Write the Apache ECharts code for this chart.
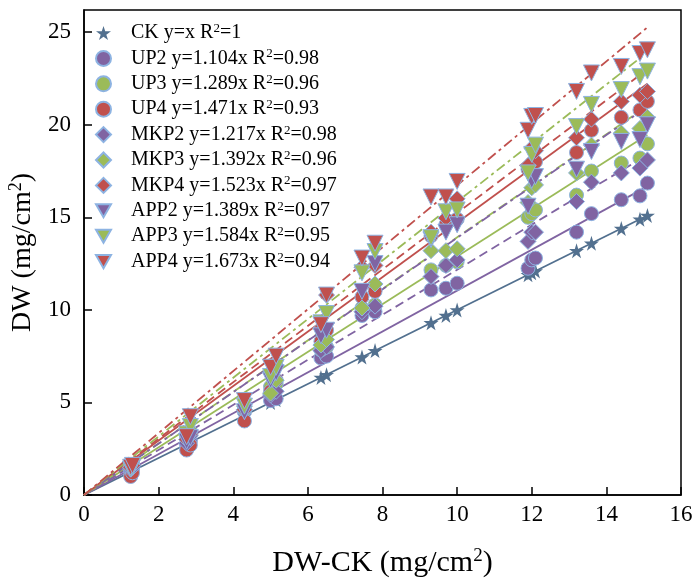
<!DOCTYPE html>
<html><head><meta charset="utf-8">
<script src="https://cdn.jsdelivr.net/npm/echarts@6/dist/echarts.min.js"></script>
<style>html,body{margin:0;padding:0;background:#fff}#c{width:695px;height:578px}</style>
</head><body><div id="c"></div>
<script>
// x values (DW-CK)
const X = [1.25,1.3,2.75,2.85,4.3,5.0,5.15,6.35,6.5,7.45,7.8,9.3,9.7,10.0,11.9,12.0,12.1,13.2,13.6,14.4,14.9,15.1];
const CK   = X.slice();
const UP2  = [1.3,1.4,2.7,2.9,4.5,5.1,5.2,7.4,7.5,9.7,9.9,11.08,11.17,11.44,12.25,12.7,12.8,14.2,15.2,15.95,16.16,16.85];
const UP3  = [1.5,1.6,3.1,3.4,4.6,5.85,6.0,7.84,8.0,10.1,10.27,12.16,12.4,12.6,15.0,15.2,15.4,16.2,17.5,17.93,18.2,18.97];
const UP4  = [1.0,1.2,2.43,2.7,4.0,5.6,6.2,8.3,8.9,10.7,11.0,14.0,14.6,14.9,17.6,17.9,18.0,18.5,19.7,20.4,20.8,21.26];
const MKP2 = [1.4,1.5,2.8,3.2,4.6,5.4,5.6,7.8,8.0,9.9,10.2,11.8,12.4,12.7,13.7,14.2,14.2,15.85,16.9,17.4,17.66,18.1];
const MKP3 = [1.5,1.6,3.3,3.5,4.8,5.5,6.2,8.1,8.4,10.1,11.4,13.2,13.2,13.3,15.8,16.6,16.75,17.4,18.9,19.55,19.8,20.4];
const MKP4 = [1.5,1.6,3.0,3.3,4.6,6.6,7.0,9.0,10.8,12.3,12.4,14.2,14.96,16.0,17.8,18.75,18.6,19.3,20.3,21.26,21.6,21.8];
const APP2 = [1.4,1.5,2.9,3.1,4.5,6.2,6.6,8.6,8.9,11.0,12.5,13.8,14.2,14.6,15.6,17.0,17.2,17.6,18.56,19.1,19.2,20.0];
const APP3 = [1.4,1.5,3.3,3.7,4.8,6.4,6.9,9.3,9.8,12.0,13.15,13.9,15.3,15.4,17.4,18.4,18.9,19.9,21.1,21.9,22.6,22.9];
const APP4 = [1.5,1.6,3.15,4.23,5.1,6.9,7.5,9.2,10.8,12.8,13.6,16.1,16.1,16.94,19.7,20.45,20.5,21.8,22.8,23.15,23.85,24.05];
const names = ['CK y=x R2=1','UP2 y=1.104x R2=0.98','UP3 y=1.289x R2=0.96','UP4 y=1.471x R2=0.93','MKP2 y=1.217x R2=0.98','MKP3 y=1.392x R2=0.96','MKP4 y=1.523x R2=0.97','APP2 y=1.389x R2=0.97','APP3 y=1.584x R2=0.95','APP4 y=1.673x R2=0.94'];
const slopes = [1, 1.104, 1.289, 1.471, 1.217, 1.392, 1.523, 1.389, 1.584, 1.673];
const ys = [CK, UP2, UP3, UP4, MKP2, MKP3, MKP4, APP2, APP3, APP4];

const STEEL = '#52708f', PURPLE = '#8064a2', GREEN = '#9bbb59', RED = '#c0504d';
const colors = [STEEL, PURPLE, GREEN, RED, PURPLE, GREEN, RED, PURPLE, GREEN, RED];
const STAR = 'path://M50,0 L61,35 L98,35 L68,57 L79,91 L50,70 L21,91 L32,57 L2,35 L39,35 Z';
const DOWN = 'path://M0,0 L100,0 L50,87 Z';
const symbols = [STAR,'circle','circle','circle','diamond','diamond','diamond',DOWN,DOWN,DOWN];
const sizes = [15,14,14,14,16,16,16,16,16,16];
const lineTypes = ['solid','solid','solid','solid',[9,5],[9,5],[9,5],[10,4,3,4],[10,4,3,4],[10,4,3,4]];
const font = 'Liberation Serif';

const series = [];
ys.forEach((arr, i) => {
  const xe = X[X.length-1];
  series.push({
    type: 'line', name: 'fit' + i, silent: true, symbol: 'none',
    data: [[0,0],[xe, slopes[i]*xe]],
    lineStyle: {color: colors[i], width: 1.8, type: lineTypes[i]},
    z: 1
  });
});
ys.forEach((arr, i) => {
  series.push({
    type: 'scatter', name: names[i],
    data: X.map((x, k) => [x, arr[k]]),
    symbol: symbols[i], symbolSize: sizes[i],
    itemStyle: {color: colors[i], borderColor: i === 0 ? colors[i] : '#8db3e2', borderWidth: i === 0 ? 0 : 1, opacity: 1},
    z: 2
  });
});

const chart = echarts.init(document.getElementById('c'), null, {renderer: 'canvas'});
chart.setOption({
  animation: false,
  backgroundColor: '#fff',
  grid: {left: 84, right: 14, top: 10, bottom: 83, outerBoundsMode: 'none', containLabel: false, show: true, borderColor: '#000', borderWidth: 1.5, backgroundColor: 'transparent'},
  legend: {
    data: names, orient: 'vertical', left: 90, top: 17,
    itemWidth: 15, itemHeight: 15, itemGap: 4.4,
    formatter: function (n) { return n.replace(/R2=(\S+)/, '{t|R}{sup|2}{t|=$1}').replace(/^(.*?)\{t\|R\}/, '{t|$1R}'); },
    textStyle: {fontFamily: font, fontSize: 20, color: '#000', padding: [0,0,0,15],
      rich: {t: {fontFamily: font, fontSize: 20, color: '#000'}, sup: {fontFamily: font, fontSize: 13, color: '#000', padding: [0,0,9,0]}}}
  },
  xAxis: {
    type: 'value', min: 0, max: 16, interval: 2,
    name: 'DW-CK (mg/cm{sup|2})', nameLocation: 'middle', nameGap: 52,
    nameTextStyle: {fontFamily: font, fontSize: 30, color: '#000', rich: {sup: {fontFamily: font, fontSize: 19, padding: [0,0,14,0], color: '#000'}}},
    axisLine: {lineStyle: {color: '#000', width: 1.5}},
    axisTick: {inside: true, length: 8, lineStyle: {color: '#000', width: 1.5}},
    axisLabel: {fontFamily: font, fontSize: 23, color: '#000', margin: 8},
    splitLine: {show: false}
  },
  yAxis: {
    type: 'value', min: 0, max: 26.2, interval: 5,
    name: 'DW (mg/cm{sup|2})', nameLocation: 'middle', nameGap: 38,
    nameTextStyle: {fontFamily: font, fontSize: 28, color: '#000', rich: {sup: {fontFamily: font, fontSize: 18, padding: [0,0,13,0], color: '#000'}}},
    axisLine: {lineStyle: {color: '#000', width: 1.5}},
    axisTick: {inside: true, length: 8, lineStyle: {color: '#000', width: 1.5}},
    axisLabel: {fontFamily: font, fontSize: 23, color: '#000', margin: 13, showMaxLabel: false},
    splitLine: {show: false}
  },
  series: series
});
</script></body></html>
